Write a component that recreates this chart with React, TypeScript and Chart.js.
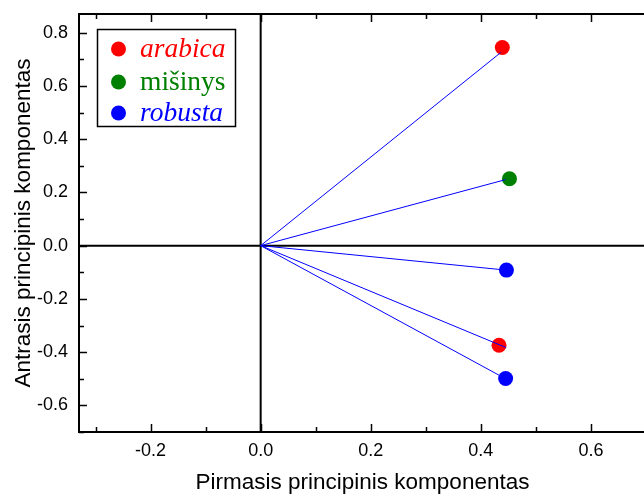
import React, { useEffect, useRef } from "react";
import { Chart, registerables } from "chart.js";

Chart.register(...registerables);

// ---- data ----
const groups = ["arabica", "mišinys", "robusta"];
const groupColors = ["#ff0000", "#008000", "#0000ff"];
const groupItalic = [true, false, true];

const pointGroup = [0, 1, 2, 0, 2];
const pointX = [0.439, 0.452, 0.4465, 0.433, 0.445];
const pointY = [0.744, 0.251, -0.092, -0.374, -0.499];

const lineEndX = [0.436, 0.445, 0.446, 0.446, 0.436];
const lineEndY = [0.725, 0.248, -0.092, -0.383, -0.49];

const xTicks = [-0.2, 0.0, 0.2, 0.4, 0.6];
const xMinor = [-0.3, -0.1, 0.1, 0.3, 0.5, 0.7];
const yTicks = [-0.6, -0.4, -0.2, 0.0, 0.2, 0.4, 0.6, 0.8];
const yMinor = [-0.7, -0.5, -0.3, -0.1, 0.1, 0.3, 0.5, 0.7];

const xTitle = "Pirmasis principinis komponentas";
const yTitle = "Antrasis principinis komponentas";

const SANS = "'Liberation Sans', Arial, sans-serif";
const SERIF = "'Liberation Serif', 'Times New Roman', serif";

const framePlugin = {
  id: "framePlugin",
  beforeDatasetsDraw(chart: any) {
    const { ctx, chartArea: a, scales } = chart;
    const x0 = scales.x.getPixelForValue(0);
    const y0 = scales.y.getPixelForValue(0);
    ctx.save();
    ctx.strokeStyle = "#000";
    ctx.lineWidth = 2;
    ctx.beginPath();
    ctx.moveTo(x0, a.top);
    ctx.lineTo(x0, a.bottom);
    ctx.moveTo(a.left, y0);
    ctx.lineTo(a.right, y0);
    ctx.stroke();
    ctx.restore();
  },
  afterDatasetsDraw(chart: any) {
    const { ctx, chartArea: a, scales } = chart;
    ctx.save();
    ctx.strokeStyle = "#000";
    ctx.lineWidth = 2;
    ctx.beginPath();
    ctx.moveTo(a.right, a.top);
    ctx.lineTo(a.left, a.top);
    ctx.lineTo(a.left, a.bottom);
    ctx.lineTo(a.right, a.bottom);
    ctx.stroke();
    ctx.lineWidth = 1.5;
    ctx.beginPath();
    const drawX = (v: number, len: number) => {
      const px = Math.round(scales.x.getPixelForValue(v)) + 0.5;
      ctx.moveTo(px, a.bottom);
      ctx.lineTo(px, a.bottom - len);
      ctx.moveTo(px, a.top);
      ctx.lineTo(px, a.top + len);
    };
    const drawY = (v: number, len: number) => {
      const py = Math.round(scales.y.getPixelForValue(v)) + 0.5;
      ctx.moveTo(a.left, py);
      ctx.lineTo(a.left + len, py);
    };
    xTicks.forEach((v) => drawX(v, 8));
    xMinor.forEach((v) => drawX(v, 5));
    yTicks.forEach((v) => drawY(v, 8));
    yMinor.forEach((v) => drawY(v, 5));
    ctx.stroke();
    ctx.restore();
  },
  afterDraw(chart: any) {
    const { ctx } = chart;
    ctx.save();
    // legend box
    const bx = 97.5, by = 29.5, bw = 138, bh = 97;
    ctx.fillStyle = "#fff";
    ctx.fillRect(bx, by, bw, bh);
    ctx.strokeStyle = "#000";
    ctx.lineWidth = 1.5;
    ctx.strokeRect(bx, by, bw, bh);
    const rowY = [49, 82, 113];
    groups.forEach((g, i) => {
      ctx.fillStyle = groupColors[i];
      ctx.beginPath();
      ctx.arc(118.5, rowY[i], 7.5, 0, Math.PI * 2);
      ctx.fill();
      ctx.font = `${groupItalic[i] ? "italic " : ""}27.5px ${SERIF}`;
      ctx.textBaseline = "middle";
      ctx.textAlign = "left";
      ctx.fillText(g, 140, rowY[i] + 1);
    });
    ctx.restore();
  },
};

export default function App() {
  const ref = useRef<HTMLCanvasElement | null>(null);
  useEffect(() => {
    if (!ref.current) return;
    const lineSets = lineEndX.map((x, i) => ({
      type: "line" as const,
      data: [
        { x: 0, y: 0 },
        { x, y: lineEndY[i] },
      ],
      borderColor: "#0000ff",
      borderWidth: 1,
      pointRadius: 0,
      showLine: true,
      fill: false,
    }));
    const pointSets = pointX.map((x, i) => ({
      type: "scatter" as const,
      data: [{ x, y: pointY[i] }],
      backgroundColor: groupColors[pointGroup[i]],
      borderColor: groupColors[pointGroup[i]],
      borderWidth: 0,
      pointRadius: 7.5,
      pointHoverRadius: 7.5,
    }));
    const chart = new Chart(ref.current, {
      type: "scatter",
      data: { datasets: [...lineSets, ...pointSets] as any },
      options: {
        animation: false,
        responsive: false,
        devicePixelRatio: 1,
        layout: { padding: { left: 0, right: 34, top: 14, bottom: 0 } },
        plugins: { legend: { display: false }, tooltip: { enabled: false } },
        scales: {
          x: {
            type: "linear",
            min: -0.33,
            max: 0.7,
            afterFit: (s: any) => {
              s.height = 62;
              s.paddingLeft = 0;
              s.paddingRight = 0;
            },
            afterBuildTicks: (s: any) => {
              s.ticks = xTicks.map((v) => ({ value: v }));
            },
            grid: { display: false, drawTicks: false },
            border: { display: false },
            ticks: {
              padding: 8,
              color: "#000",
              font: { family: SANS, size: 18 },
              callback: (v: any) => Number(v).toFixed(1),
            },
            title: {
              display: true,
              text: xTitle,
              color: "#000",
              font: { family: SANS, size: 22.5 },
              padding: { top: 0, bottom: -2 },
            },
          },
          y: {
            type: "linear",
            min: -0.7,
            max: 0.87,
            afterFit: (s: any) => {
              s.width = 79;
              s.paddingTop = 0;
              s.paddingBottom = 0;
            },
            afterBuildTicks: (s: any) => {
              s.ticks = yTicks.map((v) => ({ value: v }));
            },
            grid: { display: false, drawTicks: false },
            border: { display: false },
            ticks: {
              padding: 11,
              color: "#000",
              font: { family: SANS, size: 18 },
              callback: (v: any) => Number(v).toFixed(1),
            },
            title: {
              display: true,
              text: yTitle,
              color: "#000",
              font: { family: SANS, size: 22.5 },
              padding: { top: 10, bottom: 0 },
            },
          },
        },
      },
      plugins: [framePlugin],
    });
    return () => chart.destroy();
  }, []);
  return (
    <div
      style={{
        position: "fixed",
        left: 0,
        top: 0,
        width: 644,
        height: 494,
        overflow: "hidden",
        background: "#fff",
      }}
    >
      <canvas ref={ref} width={680} height={494} style={{ display: "block" }} />
    </div>
  );
}
